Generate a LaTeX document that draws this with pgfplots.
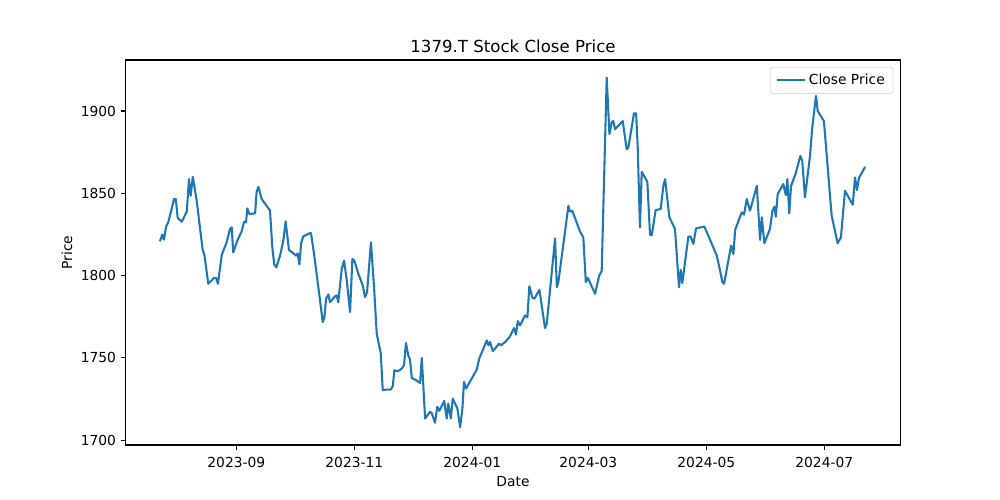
\documentclass[border=0pt]{standalone}
\usepackage{pgfplots}
\pgfplotsset{compat=1.18}
\usepackage{fontspec}
\setmainfont{DejaVu Sans}
\definecolor{tabblue}{HTML}{1F77B4}
\begin{document}
\begin{tikzpicture}[x=1pt,y=1pt]
\def\px{0.7227}
\path[use as bounding box] (-125.7*\px,-55*\px) rectangle (874.3*\px,445*\px);
\begin{axis}[
  at={(0,0)}, anchor=south west,
  scale only axis,
  width=774.6*0.7227pt, height=385*0.7227pt,
  xmin=-57.2, xmax=343.3,
  ymin=1697, ymax=1931,
  xtick={0,61,122,182,243,304},
  xticklabels={2023-09,2023-11,2024-01,2024-03,2024-05,2024-07},
  ytick={1700,1750,1800,1850,1900},
  tick pos=left,
  tick align=outside,
  major tick length=3.5pt,
  every tick/.style={black, line width=0.8pt},
  axis line style={line width=0.8pt},
  /pgf/number format/assume math mode=true,
  /pgf/number format/set thousands separator={},
  tick label style={font=\fontsize{10}{12}\selectfont},
  xticklabel style={yshift=-2pt},
  title={1379.T Stock Close Price},
  title style={at={(axis description cs:0.5,1.0152)}, anchor=center, font=\fontsize{12}{14}\selectfont},
  xlabel={Date},
  xlabel style={at={(axis description cs:0.5,-0.094)}, anchor=center, font=\fontsize{10}{12}\selectfont},
  ylabel={Price},
  ylabel style={at={(axis description cs:-0.0758,0.5)}, anchor=center, font=\fontsize{10}{12}\selectfont},
  legend style={at={(axis description cs:0.991,0.982)}, anchor=north east, draw=black!20, rounded corners=2pt, font=\fontsize{10}{12}\selectfont, inner xsep=4pt, inner ysep=3pt},
  legend cell align=left,
  legend image code/.code={\draw[#1] (0cm,0cm) -- (0.72cm,0cm);},
]
\addplot[color=tabblue, line width=1.5pt, line join=round] coordinates {
(-39.5,1820.8) (-38.3,1824.8) (-37.4,1821.8) (-36.3,1829.9) (-35.2,1832.3)
(-32.2,1846.5) (-31.3,1846.5) (-30.3,1835.0) (-28.2,1832.7) (-25.6,1839.0)
(-24.5,1858.6) (-23.6,1848.5) (-22.5,1860.0) (-20.5,1845.5) (-17.4,1815.6)
(-16.5,1812.5) (-14.5,1795.0) (-11.5,1798.6) (-10.5,1798.6) (-9.5,1795.0)
(-7.5,1812.7) (-5.0,1820.2) (-3.3,1828.3) (-2.4,1829.3) (-1.6,1814.1)
(0.5,1821.2) (2.8,1826.9) (4.0,1832.7) (5.0,1832.3) (5.7,1840.8)
(6.7,1837.4) (9.7,1837.8) (10.5,1850.9) (11.4,1853.9) (13.1,1846.5)
(17.4,1839.6) (18.6,1817.2) (19.6,1806.7) (20.7,1805.0) (22.6,1812.1)
(24.3,1821.2) (25.5,1832.9) (27.2,1815.6) (29.5,1813.5) (30.9,1812.1)
(31.7,1813.5) (32.6,1806.7) (33.5,1819.6) (34.6,1823.8) (38.1,1825.8)
(38.6,1825.8) (40.3,1812.1) (42.4,1792.9) (44.7,1771.7) (45.5,1774.1)
(46.4,1785.9) (47.6,1788.5) (48.4,1783.8) (51.0,1787.3) (51.9,1787.9)
(52.7,1783.8) (54.5,1804.0) (55.7,1809.1) (57.1,1797.0) (58.8,1777.8)
(60.0,1810.1) (61.0,1809.1) (63.1,1801.0) (65.4,1793.9) (66.5,1786.9)
(67.6,1789.9) (69.6,1820.2) (71.2,1792.9) (72.6,1764.6) (74.7,1752.5)
(75.7,1730.3) (77.8,1730.7) (79.8,1730.7) (80.9,1732.7) (81.7,1742.4)
(83.5,1741.8) (85.5,1743.4) (86.7,1745.5) (87.7,1759.0) (88.9,1751.5)
(89.8,1748.9) (90.7,1737.8) (92.9,1736.4) (95.0,1734.7) (95.9,1749.9)
(97.6,1713.1) (100.2,1717.2) (101.1,1716.2) (102.7,1710.5) (103.9,1720.2)
(105.0,1717.8) (107.5,1723.8) (108.8,1713.1) (109.6,1722.2) (110.9,1713.1)
(111.9,1725.2) (114.3,1719.2) (115.7,1707.7) (116.9,1719.2) (117.7,1735.4)
(118.8,1731.3) (124.3,1742.8) (125.6,1749.5) (129.5,1760.6) (130.3,1757.6)
(131.2,1759.6) (132.6,1754.1) (133.8,1755.6) (135.8,1758.6) (136.9,1757.6)
(139.0,1759.6) (141.5,1763.0) (143.6,1768.1) (144.6,1764.1) (145.5,1772.3)
(146.7,1769.7) (149.3,1775.8) (150.5,1774.7) (151.5,1793.5) (153.1,1786.5)
(154.1,1785.9) (156.7,1791.3) (159.6,1768.1) (160.5,1770.7) (164.8,1822.6)
(165.7,1792.9) (166.5,1796.0) (171.7,1842.4) (172.5,1838.9) (173.7,1839.4)
(177.7,1826.7) (179.4,1823.2) (180.7,1796.0) (181.7,1798.6) (185.5,1788.9)
(187.6,1800.0) (188.9,1802.6) (191.5,1920.2) (192.9,1886.0) (194.1,1893.3)
(194.9,1893.9) (195.8,1888.9) (199.8,1893.9) (201.8,1876.8) (202.7,1877.8)
(205.6,1898.6) (206.7,1898.6) (207.5,1878.8) (208.7,1829.3) (209.6,1863.0)
(212.5,1857.0) (213.9,1824.6) (214.8,1824.6) (216.8,1839.8) (219.4,1840.4)
(220.8,1854.5) (221.7,1858.6) (223.9,1835.4) (226.8,1828.3) (228.9,1792.9)
(229.8,1803.4) (230.6,1795.4) (233.7,1823.6) (234.9,1823.6) (236.3,1819.2)
(237.7,1828.7) (242.0,1829.7) (244.4,1823.2) (248.4,1812.1) (250.1,1803.0)
(251.3,1796.0) (252.2,1795.0) (255.8,1818.2) (257.0,1813.1) (257.9,1827.7)
(261.3,1838.4) (262.5,1837.0) (263.9,1846.5) (265.6,1839.4) (269.1,1854.5)
(270.8,1821.6) (271.7,1835.4) (273.0,1819.6) (275.9,1828.3) (277.2,1839.4)
(278.2,1841.8) (278.9,1835.8) (279.9,1849.5) (282.8,1855.6) (284.1,1848.9)
(284.9,1858.6) (285.9,1837.8) (286.8,1854.5) (289.2,1862.0) (291.6,1872.7)
(292.6,1869.7) (294.0,1847.5) (296.6,1872.7) (297.8,1890.3) (299.7,1909.1)
(300.6,1900.0) (303.8,1893.9) (307.8,1836.4) (310.9,1819.6) (312.6,1823.2)
(314.7,1851.5) (318.7,1843.0) (319.9,1859.6) (320.9,1851.9) (321.9,1859.3)
(325.1,1866.0)
};
\addlegendentry{Close Price}
\end{axis}
\end{tikzpicture}
\end{document}
